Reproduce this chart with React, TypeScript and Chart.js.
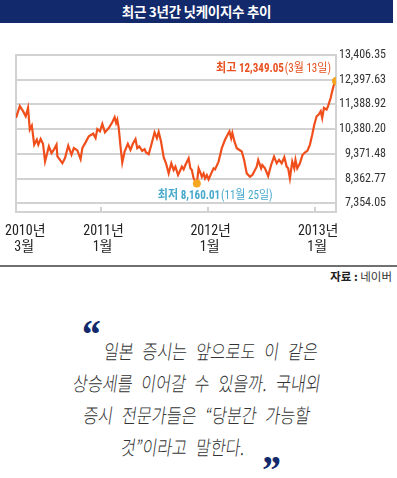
import React, { useEffect, useRef } from 'react';
import { Chart, registerables } from 'chart.js';

Chart.register(...registerables);

// ---------------- data ----------------
const TITLE = '최근 3년간 닛케이지수 추이';

const dates: string[] = [
  '2010-03-19', '2010-04-01', '2010-04-12', '2010-04-21', '2010-04-29', '2010-05-05', '2010-05-12', '2010-05-20',
  '2010-05-29', '2010-06-03', '2010-06-11', '2010-06-19', '2010-06-26', '2010-07-09', '2010-07-18', '2010-07-26',
  '2010-08-04', '2010-08-07', '2010-08-24', '2010-09-02', '2010-09-13', '2010-09-24', '2010-10-02', '2010-10-14',
  '2010-10-25', '2010-10-31', '2010-11-11', '2010-11-22', '2010-12-07', '2010-12-15', '2010-12-21', '2010-12-30',
  '2011-01-07', '2011-01-16', '2011-01-29', '2011-02-10', '2011-02-18', '2011-02-23', '2011-02-27', '2011-03-04',
  '2011-03-10', '2011-03-16', '2011-03-24', '2011-04-04', '2011-04-13', '2011-04-21', '2011-04-30', '2011-05-06',
  '2011-05-13', '2011-05-23', '2011-05-31', '2011-06-05', '2011-06-14', '2011-06-23', '2011-07-04', '2011-07-12',
  '2011-07-18', '2011-07-26', '2011-08-04', '2011-08-12', '2011-08-21', '2011-08-30', '2011-09-07', '2011-09-13',
  '2011-09-22', '2011-09-30', '2011-10-05', '2011-10-11', '2011-10-17', '2011-10-28', '2011-11-03', '2011-11-08',
  '2011-11-14', '2011-11-25', '2011-12-01', '2011-12-08', '2011-12-12', '2011-12-18', '2011-12-23', '2011-12-29',
  '2012-01-04', '2012-01-13', '2012-01-21', '2012-01-26', '2012-02-07', '2012-02-18', '2012-02-29', '2012-03-10',
  '2012-03-15', '2012-03-21', '2012-03-25', '2012-04-01', '2012-04-09', '2012-04-26', '2012-05-04', '2012-05-13',
  '2012-05-24', '2012-06-01', '2012-06-16', '2012-06-21', '2012-07-01', '2012-07-05', '2012-07-14', '2012-07-25',
  '2012-08-04', '2012-08-14', '2012-08-23', '2012-08-31', '2012-09-09', '2012-09-18', '2012-09-26', '2012-10-01',
  '2012-10-07', '2012-10-15', '2012-10-22', '2012-10-26', '2012-11-01', '2012-11-10', '2012-11-19', '2012-11-27',
  '2012-12-06', '2012-12-14', '2012-12-22', '2012-12-29', '2013-01-06', '2013-01-13', '2013-01-20', '2013-01-25',
  '2013-01-31', '2013-02-09', '2013-02-14', '2013-02-23', '2013-03-01', '2013-03-06', '2013-03-13',
];

const closes: number[] = [
  10841, 11320, 11115, 10910, 11252, 10362, 10526, 9746,
  9951, 9746, 9979, 9787, 9062, 9678, 9404, 9541,
  9746, 9267, 8993, 9199, 9705, 9336, 9609, 9513,
  9157, 9609, 9842, 10088, 10198, 10020, 10385, 10294,
  10591, 10248, 10426, 10659, 10864, 10632, 10769, 10426,
  9673, 9015, 9467, 9782, 9536, 9782, 9974, 9604,
  9673, 9495, 9563, 9426, 9358, 9741, 10248, 10015,
  10262, 9878, 9234, 8988, 8577, 8988, 8714, 8851,
  8508, 8714, 8851, 8741, 8919, 9193, 8782, 8714,
  8371, 8160.01, 8782, 8577, 8440, 8577, 8371, 8508,
  8330, 8577, 8782, 8741, 9056, 9604, 9947, 10180,
  10289, 10015, 10221, 9878, 9604, 9467, 9125, 8577,
  8440, 8508, 8851, 9125, 8782, 8919, 8782, 8467,
  8919, 9262, 8988, 9125, 8988, 9234, 8851, 8782,
  8371, 9056, 8782, 9125, 8782, 8988, 9330, 9426,
  9508, 9741, 10152, 10563, 10906, 10974, 11111, 10837,
  11248, 11180, 11317, 11659, 11974, 12200, 12349.05,
];

const yTickValues: number[] = [7354.05, 8362.77, 9371.48, 10380.2, 11388.92, 12397.63, 13406.35];
const yAxisMin = 7000;

const xTickDates: string[] = ['2010-03-19', '2011-01-01', '2012-01-01', '2013-01-01'];
const xTickYears: string[] = ['2010년', '2011년', '2012년', '2013년'];
const xTickMonths: string[] = ['3월', '1월', '1월', '1월'];

const highLabel: string[] = ['최고 12,349.05', '(3월 13일)'];
const lowLabel: string[] = ['최저 8,160.01', '(11월 25일)'];
const sourceLabel: string[] = ['자료 :', '네이버'];

const quoteLines: string[] = [
  '일본 증시는 앞으로도 이 같은',
  '상승세를 이어갈 수 있을까. 국내외',
  '증시 전문가들은 “당분간 가능할',
  '것”이라고 말한다.',
];

// ---------------- styles ----------------
const NAVY = '#12296b';
const LINE = '#f04f1c';
const DOT = '#f5a623';
const GRID = '#d2d2d2';
const HIGH_COLOR = '#e8501f';
const LOW_COLOR = '#47a9cc';
const NARROW = '"Liberation Sans Narrow", "Roboto Condensed", "DejaVu Sans Condensed", "Noto Sans CJK KR", sans-serif';
const KR = '"Noto Sans CJK KR", "Noto Sans", sans-serif';

const DAY = 86400000;
const toDay = (s: string) => Date.UTC(+s.slice(0, 4), +s.slice(5, 7) - 1, +s.slice(8, 10)) / DAY;
const fmt = (v: number) => v.toLocaleString('en-US', { minimumFractionDigits: 2, maximumFractionDigits: 2 });

const NOTE_SX = 0.92;

function ChartBox() {
  const ref = useRef<HTMLCanvasElement | null>(null);

  useEffect(() => {
    if (!ref.current) return;
    const points = dates.map((d, i) => ({ x: toDay(d), y: closes[i] }));
    let hi = 0;
    let lo = 0;
    closes.forEach((v, i) => {
      if (v > closes[hi]) hi = i;
      if (v < closes[lo]) lo = i;
    });

    const framePlugin = {
      id: 'frame',
      beforeDatasetsDraw(chart: any) {
        const { ctx, chartArea: a, scales } = chart;
        const x = scales.x;
        ctx.save();
        ctx.strokeStyle = GRID;
        ctx.lineWidth = 2;
        ctx.strokeRect(a.left, a.top, a.right - a.left, a.bottom - a.top);
        xTickDates.forEach((d, i) => {
          if (i === 0) return;
          const px = Math.round(x.getPixelForValue(toDay(d)));
          ctx.beginPath();
          ctx.moveTo(px, a.bottom);
          ctx.lineTo(px, a.bottom - 5);
          ctx.stroke();
        });
        ctx.fillStyle = '#222';
        ctx.textAlign = 'center';
        ctx.textBaseline = 'middle';
        ctx.font = `14px ${NARROW}`;
        xTickDates.forEach((d, i) => {
          let px = x.getPixelForValue(toDay(d)) + 3;
          const w = ctx.measureText(xTickYears[i]).width;
          px = Math.max(px, 5 + w / 2);
          ctx.fillText(xTickYears[i], px, a.bottom + 19);
          ctx.fillText(xTickMonths[i], px - 1, a.bottom + 35);
        });
        ctx.restore();
      },
    };

    const measureTwoPart = (ctx: any, parts: string[]) => {
      ctx.font = `bold 12px ${NARROW}`;
      const w0 = ctx.measureText(parts[0]).width;
      ctx.font = `12px ${NARROW}`;
      return (w0 + 1 + ctx.measureText(parts[1]).width) * NOTE_SX;
    };
    const drawTwoPart = (ctx: any, parts: string[], left: number, y: number, color: string) => {
      ctx.save();
      ctx.translate(left, y);
      ctx.scale(NOTE_SX, 1);
      ctx.fillStyle = color;
      ctx.textAlign = 'left';
      ctx.textBaseline = 'middle';
      ctx.font = `bold 12px ${NARROW}`;
      ctx.fillText(parts[0], 0, 0);
      const w0 = ctx.measureText(parts[0]).width;
      ctx.font = `12px ${NARROW}`;
      ctx.fillText(parts[1], w0 + 1, 0);
      ctx.restore();
    };

    const notePlugin = {
      id: 'notes',
      afterDatasetsDraw(chart: any) {
        const { ctx } = chart;
        const meta = chart.getDatasetMeta(0);
        const ph = meta.data[hi];
        const pl = meta.data[lo];
        ctx.save();
        const wh = measureTwoPart(ctx, highLabel);
        drawTwoPart(ctx, highLabel, ph.x - 5 - wh, ph.y - 12, HIGH_COLOR);
        drawTwoPart(ctx, lowLabel, pl.x - 39, pl.y + 12, LOW_COLOR);
        ctx.restore();
      },
    };

    const chart = new Chart(ref.current, {
      type: 'line',
      data: {
        datasets: [
          {
            data: points,
            borderColor: LINE,
            borderWidth: 2.2,
            tension: 0,
            pointRadius: (c: any) => (c.dataIndex === hi || c.dataIndex === lo ? 4 : 0),
            pointBackgroundColor: DOT,
            pointBorderWidth: 0,
            pointHoverRadius: 0,
          },
        ],
      },
      options: {
        responsive: false,
        animation: false,
        events: [],
        layout: { padding: { left: 16, top: 15, right: 11, bottom: 53 } },
        plugins: { legend: { display: false }, tooltip: { enabled: false } },
        scales: {
          x: {
            type: 'linear',
            display: false,
            min: toDay(dates[0]),
            max: toDay(dates[dates.length - 1]),
          },
          y: {
            position: 'right',
            min: yAxisMin,
            max: yTickValues[yTickValues.length - 1],
            afterBuildTicks: (s: any) => {
              s.ticks = yTickValues.map((v) => ({ value: v }));
            },
            afterFit: (s: any) => {
              s.width = 50;
            },
            grid: { color: GRID, lineWidth: 2, drawTicks: false },
            border: { display: false },
            ticks: {
              padding: 6,
              crossAlign: 'far',
              color: '#333',
              font: { family: NARROW, size: 12 },
              callback: (v: any) => fmt(Number(v)),
            },
          },
        },
      } as any,
      plugins: [framePlugin, notePlugin],
    });
    return () => chart.destroy();
  }, []);

  return (
    <canvas
      ref={ref}
      width={397}
      height={225}
      style={{ position: 'absolute', left: 0, top: 40, width: 397, height: 225 }}
    />
  );
}

const quoteCenters = [211, 197, 197, 183];
const quoteMids = [351, 383, 415, 447];

export default function App() {
  return (
    <div
      style={{
        position: 'absolute',
        left: 0,
        top: 0,
        width: 397,
        height: 478,
        background: '#fff',
        overflow: 'hidden',
        fontFamily: KR,
      }}
    >
      <div
        style={{
          position: 'absolute',
          left: 0,
          top: 0,
          width: 393,
          height: 23,
          background: NAVY,
          color: '#fff',
          fontWeight: 'bold',
          fontSize: 13.5,
          lineHeight: '23px',
          textAlign: 'center',
          letterSpacing: -0.3,
        }}
      >
        {TITLE}
      </div>

      <ChartBox />

      <div
        style={{
          position: 'absolute',
          left: 0,
          top: 265,
          width: 397,
          height: 0,
          borderTop: '2px solid #707070',
        }}
      />
      <div
        style={{
          position: 'absolute',
          right: 5,
          top: 269,
          fontSize: 11.5,
          lineHeight: '14px',
          color: '#222',
          whiteSpace: 'nowrap',
        }}
      >
        <span style={{ fontWeight: 'bold' }}>{sourceLabel[0]}</span> <span style={{ color: '#333' }}>{sourceLabel[1]}</span>
      </div>

      <div
        style={{
          position: 'absolute',
          left: 80,
          top: 315,
          fontFamily: '"Liberation Serif", "DejaVu Serif", serif',
          fontWeight: 'bold',
          fontStyle: 'italic',
          fontSize: 40,
          lineHeight: '40px',
          color: NAVY,
        }}
      >
        “
      </div>
      <div
        style={{
          position: 'absolute',
          left: 260,
          top: 450,
          fontFamily: '"Liberation Serif", "DejaVu Serif", serif',
          fontWeight: 'bold',
          fontStyle: 'italic',
          fontSize: 40,
          lineHeight: '40px',
          color: NAVY,
        }}
      >
        ”
      </div>

      {quoteLines.map((line, i) => (
        <div
          key={i}
          style={{
            position: 'absolute',
            left: quoteCenters[i],
            top: quoteMids[i] - 12,
            fontSize: 20,
            lineHeight: '24px',
            fontWeight: 300,
            color: '#333',
            whiteSpace: 'nowrap',
            wordSpacing: '0.32em',
            transform: 'translateX(-50%) scaleX(0.81) skewX(-10deg)',
          }}
        >
          {line}
        </div>
      ))}
    </div>
  );
}
